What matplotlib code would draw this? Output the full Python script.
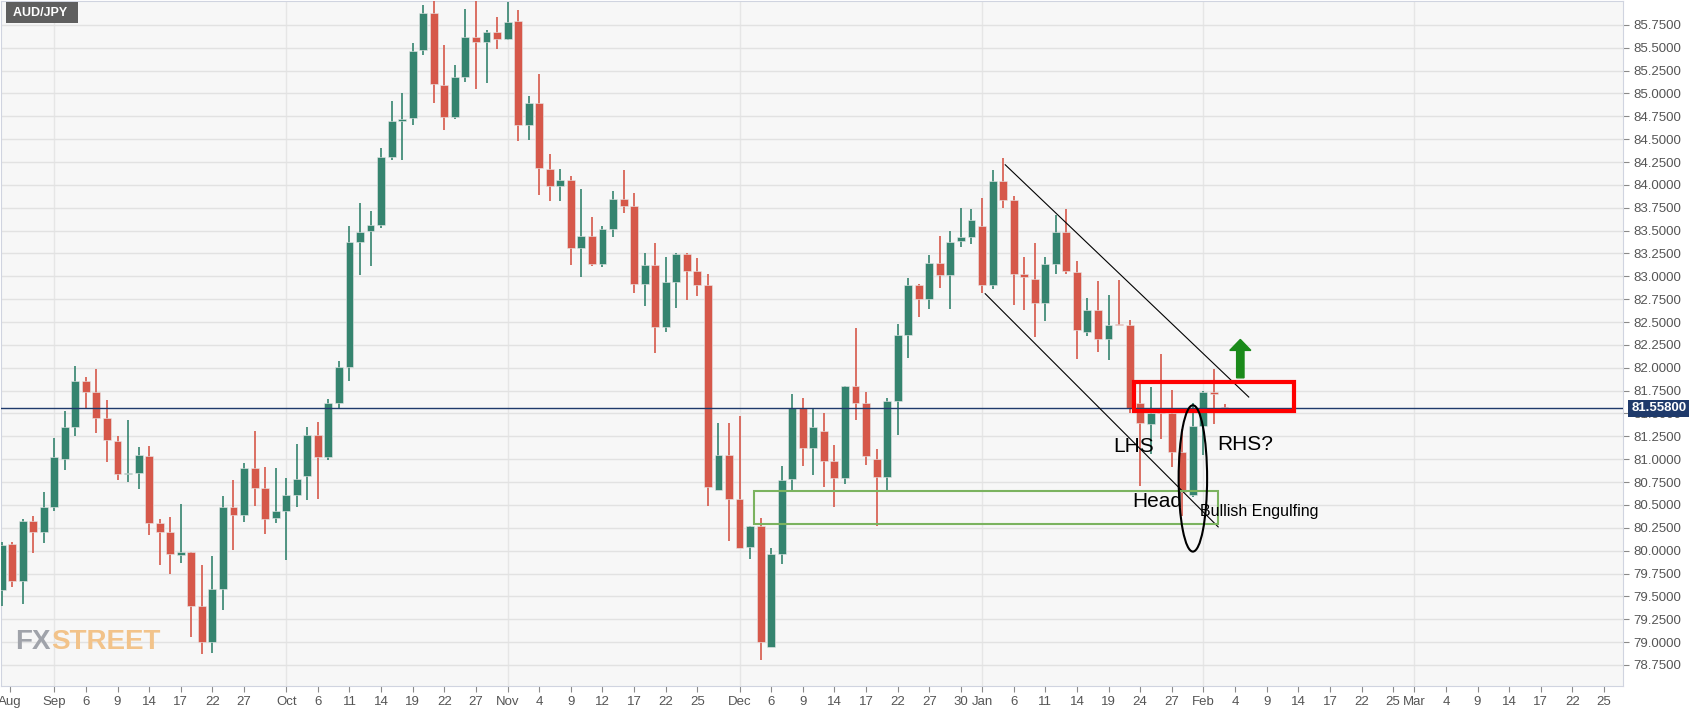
import matplotlib.pyplot as plt
from matplotlib.patches import Rectangle, Ellipse, FancyArrow

plt.rcParams['font.family'] = ['Liberation Sans', 'DejaVu Sans']

# AUD/JPY daily candles
opens = [79.57, 80.07, 79.67, 80.32, 80.20, 80.48, 81.00, 81.35, 81.85, 81.74,
         81.45, 81.20, 80.84, 80.85, 81.04, 80.30, 80.20, 79.95, 79.99, 79.39,
         79.00, 79.58, 80.48, 80.39, 80.90, 80.69, 80.36, 80.43, 80.61, 80.82,
         81.27, 81.02, 81.62, 82.01, 83.37, 83.50, 83.56, 84.30, 84.70, 84.73,
         85.47, 85.88, 85.09, 84.74, 85.18, 85.62, 85.56, 85.67, 85.60, 85.79,
         84.66, 84.90, 84.17, 83.99, 84.05, 83.31, 83.44, 83.14, 83.52, 83.85,
         83.77, 82.92, 83.12, 82.45, 82.94, 83.24, 83.06, 82.91, 80.66, 81.05,
         80.56, 80.04, 80.27, 78.95, 79.96, 80.78, 81.56, 81.12, 81.31, 80.98,
         80.79, 81.80, 81.62, 81.00, 80.81, 81.64, 82.36, 82.90, 82.75, 83.15,
         83.01, 83.39, 83.43, 83.55, 82.90, 84.04, 83.84, 83.03, 82.97, 82.71,
         83.13, 83.49, 83.05, 82.39, 82.63, 82.31, 82.48, 82.47, 81.62, 81.39,
         81.51, 81.50, 81.08, 80.61, 81.36, 81.74, 81.56]
closes = [80.06, 79.67, 80.32, 80.20, 80.48, 81.02, 81.35, 81.85, 81.74, 81.45,
          81.21, 80.84, 80.85, 81.05, 80.30, 80.20, 79.96, 79.99, 79.40, 79.00,
          79.58, 80.48, 80.39, 80.90, 80.69, 80.35, 80.43, 80.61, 80.78, 81.27,
          81.02, 81.62, 82.01, 83.37, 83.49, 83.56, 84.31, 84.70, 84.72, 85.46,
          85.88, 85.10, 84.74, 85.18, 85.62, 85.56, 85.67, 85.60, 85.78, 84.66,
          84.90, 84.18, 83.99, 84.05, 83.31, 83.44, 83.14, 83.52, 83.85, 83.77,
          82.92, 83.12, 82.45, 82.94, 83.24, 83.06, 82.91, 80.70, 81.05, 80.57,
          80.03, 80.27, 79.00, 79.96, 80.77, 81.56, 81.12, 81.35, 80.98, 80.79,
          81.80, 81.62, 81.03, 80.81, 81.64, 82.36, 82.90, 82.75, 83.15, 83.01,
          83.38, 83.43, 83.62, 82.90, 84.04, 83.84, 83.03, 82.99, 82.71, 83.13,
          83.49, 83.06, 82.41, 82.63, 82.31, 82.47, 82.47, 81.56, 81.40, 81.50,
          81.50, 81.08, 80.64, 81.36, 81.74, 81.71, 81.558]
highs = [80.10, 80.10, 80.35, 80.38, 80.64, 81.23, 81.53, 82.02, 81.90, 81.99,
         81.65, 81.25, 81.43, 81.13, 81.14, 80.35, 80.37, 80.51, 79.99, 79.84,
         79.94, 80.60, 80.77, 80.96, 81.31, 80.92, 80.90, 80.80, 81.17, 81.35,
         81.41, 81.66, 82.07, 83.55, 83.80, 83.71, 84.40, 84.92, 85.01, 85.55,
         85.97, 86.05, 85.53, 85.31, 85.92, 86.05, 85.69, 85.84, 86.00, 85.91,
         84.97, 85.21, 84.34, 84.17, 84.10, 83.95, 83.65, 83.55, 83.93, 84.16,
         83.91, 83.26, 83.36, 83.21, 83.25, 83.25, 83.20, 83.03, 81.40, 81.40,
         81.47, 80.27, 80.36, 80.03, 80.93, 81.71, 81.67, 81.56, 81.50, 81.16,
         81.80, 82.43, 81.74, 81.11, 81.67, 82.48, 82.98, 82.92, 83.23, 83.44,
         83.50, 83.75, 83.74, 83.86, 84.16, 84.29, 83.88, 83.21, 83.36, 83.21,
         83.67, 83.74, 83.17, 82.76, 82.95, 82.80, 82.96, 82.52, 81.82, 81.79,
         82.15, 81.76, 81.33, 81.62, 81.75, 81.99, 81.60]
lows = [79.40, 79.60, 79.42, 79.97, 80.08, 80.43, 80.88, 81.25, 81.55, 81.29,
        80.97, 80.77, 80.75, 80.67, 80.17, 79.84, 79.75, 79.86, 79.06, 78.87,
        78.88, 79.35, 80.01, 80.31, 80.49, 80.18, 80.30, 79.90, 80.48, 80.55,
        80.57, 80.99, 81.56, 81.85, 83.01, 83.11, 83.53, 84.27, 84.27, 84.66,
        85.42, 84.89, 84.60, 84.72, 85.12, 85.05, 85.11, 85.49, 85.58, 84.48,
        84.49, 83.89, 83.82, 83.82, 83.12, 82.99, 83.11, 83.10, 83.43, 83.69,
        82.82, 82.68, 82.16, 82.39, 82.65, 82.74, 82.79, 80.49, 80.66, 80.11,
        80.03, 79.91, 78.80, 78.95, 79.85, 80.66, 80.93, 80.83, 80.70, 80.48,
        80.73, 81.43, 80.94, 80.27, 80.64, 81.27, 82.11, 82.55, 82.64, 82.87,
        82.64, 83.32, 83.35, 82.82, 82.86, 83.75, 82.69, 82.63, 82.34, 82.51,
        83.03, 83.02, 82.10, 82.35, 82.17, 82.09, 82.47, 81.50, 80.71, 81.06,
        81.22, 80.91, 80.38, 80.59, 81.05, 81.39, 81.50]

tick_pos = [0.8, 5, 8, 11, 14, 17, 20, 23, 27, 30, 33, 36, 39, 42, 45, 48, 51, 54,
            57, 60, 63, 66, 70, 73, 76, 79, 82, 85, 88, 91, 93, 96, 99, 102, 105,
            108, 111, 114, 117, 120, 123, 126, 129, 132, 134, 137, 140, 143, 146,
            149, 152]
tick_labels = ["Aug", "Sep", "6", "9", "14", "17", "22", "27", "Oct", "6", "11",
               "14", "19", "22", "27", "Nov", "4", "9", "12", "17", "22", "25",
               "Dec", "6", "9", "14", "17", "22", "27", "30", "Jan", "6", "11",
               "14", "19", "24", "27", "Feb", "4", "9", "14", "17", "22", "25",
               "Mar", "4", "9", "14", "17", "22", "25"]
months = [5, 27, 48, 70, 93, 114, 134]
last_price = 81.558

green = "#35846f"
red = "#d6584a"

fig = plt.figure(figsize=(17.07, 7.12), dpi=100)
ax = fig.add_axes([0.0006, 0.0365, 0.9502, 0.962])
ax.set_facecolor("#f7f7f7")

x = list(range(len(opens)))
for i in x:
    o, c, h, l = opens[i], closes[i], highs[i], lows[i]
    col = green if c >= o else red
    ax.vlines(i, l, h, color=col, lw=1.2, zorder=3)
    ax.bar(i, max(abs(c - o), 0.012), bottom=min(o, c), width=0.75,
           color=col, edgecolor="#e8e8e8", linewidth=0.4, zorder=4)

ax.set_xlim(-0.05, 153.8)
ax.set_ylim(78.52, 86.01)

ax.set_yticks([78.75 + 0.25 * k for k in range(29)])
ax.yaxis.tick_right()
ax.yaxis.set_major_formatter(plt.FuncFormatter(lambda v, p: f"{v:.4f}"))
ax.set_xticks(tick_pos)
ax.set_xticklabels(tick_labels)
ax.tick_params(axis="both", colors="#8a8a8a", labelcolor="#555555",
               labelsize=9.5, length=4)
ax.grid(axis="y", color="#e2e2e2", lw=1, zorder=0)
for m in months:
    ax.axvline(m, color="#e6e6e6", lw=1, zorder=0)
for s in ax.spines.values():
    s.set_color("#d0d4e0")

# current price
ax.axhline(last_price, color="#1f3a6b", lw=1, zorder=5)
ax.text(1.005, last_price, "81.55800", transform=ax.get_yaxis_transform(),
        va="center", ha="left", color="white", fontsize=9.5, fontweight="bold",
        bbox=dict(boxstyle="square,pad=0.2", fc="#1f3a6b", ec="none"), zorder=6)

# descending channel
ax.plot([95.2, 118.3], [84.22, 81.68], color="black", lw=0.8, zorder=6)
ax.plot([93.3, 115.4], [82.81, 80.26], color="black", lw=0.8, zorder=6)

# zones
ax.add_patch(Rectangle((71.4, 80.29), 44.0, 0.36, fill=False,
                       ec="#7bb35f", lw=1.5, zorder=6))
ax.add_patch(Rectangle((107.4, 81.53), 15.2, 0.31, fill=False,
                       ec="red", lw=3, zorder=7))
ax.add_patch(Ellipse((113.0, 80.79), 2.7, 1.6, fill=False, ec="black",
                     lw=1.5, zorder=7))
ax.add_patch(FancyArrow(117.5, 81.89, 0, 0.3, width=0.7, head_width=2.0,
                        head_length=0.12, color="#1a8a1a", zorder=7))

ax.text(107.4, 81.14, "LHS", fontsize=15, ha="center", va="center", zorder=8)
ax.text(118.0, 81.16, "RHS?", fontsize=15, ha="center", va="center", zorder=8)
ax.text(109.6, 80.54, "Head", fontsize=15, ha="center", va="center", zorder=8)
ax.text(119.3, 80.43, "Bullish Engulfing", fontsize=11.5, ha="center",
        va="center", zorder=8)

# symbol label and watermark
fig.text(0.006, 0.982, " AUD/JPY  ", color="white", fontsize=9,
         fontweight="bold", va="center",
         bbox=dict(boxstyle="square,pad=0.35", fc="#5f5f5f", ec="none"))
fig.text(0.009, 0.098, "FX", color="#a0a3aa", fontsize=20, fontweight="bold",
         va="center")
fig.text(0.03, 0.098, "STREET", color="#f2c38a", fontsize=20,
         fontweight="bold", va="center")

fig.savefig("out.png", dpi=100)
